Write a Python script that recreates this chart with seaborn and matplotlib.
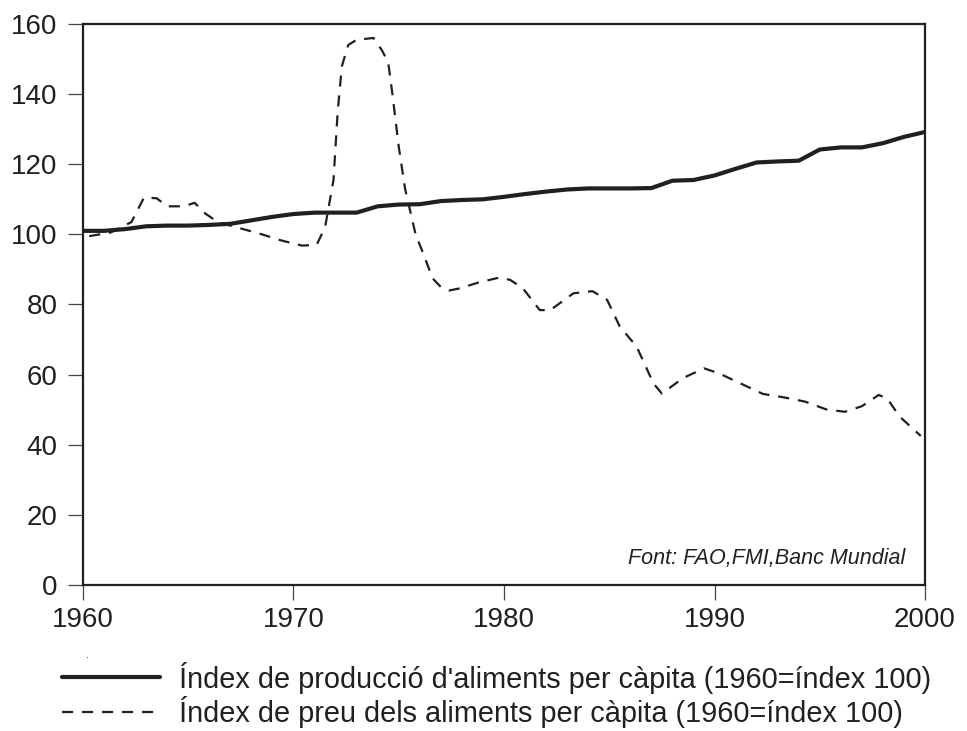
import matplotlib
matplotlib.use("Agg")
import matplotlib.pyplot as plt
import pandas as pd
import seaborn as sns

# Food production index per capita (1960 = 100)
prod_years = [1960, 1961, 1962, 1963, 1964, 1965, 1966, 1967, 1968, 1969,
              1970, 1971, 1972, 1973, 1974, 1975, 1976, 1977, 1978, 1979,
              1980, 1981, 1982, 1983, 1984, 1985, 1986, 1987, 1988, 1989,
              1990, 1991, 1992, 1993, 1994, 1995, 1996, 1997, 1998, 1999, 2000]
prod_index = [101, 101, 101.5, 102.3, 102.5, 102.5, 102.7, 103, 104, 105,
              105.8, 106.2, 106.2, 106.2, 108, 108.5, 108.6, 109.5, 109.8, 110,
              110.7, 111.5, 112.2, 112.8, 113.1, 113.1, 113.1, 113.2, 115.3, 115.5,
              116.8, 118.7, 120.5, 120.8, 121, 124.2, 124.8, 124.8, 126, 127.8, 129.2]

# Food price index per capita (1960 = 100)
price_years = [1960.3, 1961.3, 1962.3, 1962.9, 1963.5, 1964.0, 1964.8, 1965.3, 1965.8,
               1966.4, 1967.3, 1968.4, 1969.4, 1970.4, 1971.1, 1971.5, 1971.9, 1972.1,
               1972.3, 1972.6, 1973.0, 1973.8, 1974.2, 1974.5, 1974.7, 1975.0, 1975.3,
               1975.8, 1976.2, 1976.6, 1977.0, 1977.4, 1977.9, 1978.8, 1979.8, 1980.3,
               1980.9, 1981.7, 1982.2, 1983.3, 1984.2, 1984.9, 1985.5, 1986.3, 1987.1,
               1987.5, 1988.5, 1989.5, 1990.2, 1991.3, 1992.3, 1993.4, 1994.3, 1995.3,
               1996.2, 1997.0, 1997.8, 1998.2, 1998.8, 1999.8]
price_index = [99.5, 100.5, 103.5, 110.5, 110.3, 108, 108, 109, 106,
               103.5, 102, 100.2, 98.3, 96.8, 97, 102, 115.5, 135,
               148, 154, 155.5, 156, 152.5, 149, 140, 125, 113,
               100, 94, 87.5, 85, 84, 84.6, 86.3, 87.7, 87,
               84.6, 78.4, 78.4, 83.2, 83.8, 81.3, 73.7, 68, 57.5,
               54.6, 59, 61.8, 60.4, 57.3, 54.5, 53.4, 52.3, 50.1,
               49.4, 51, 54.2, 53.2, 48, 42.5]

label_prod = "Índex de producció d'aliments per càpita (1960=índex 100)"
label_price = "Índex de preu dels aliments per càpita (1960=índex 100)"
source_text = "Font: FAO,FMI,Banc Mundial"

ink = "#231f20"

sns.set_style("white")
plt.rcParams["font.family"] = ["Liberation Sans", "DejaVu Sans"]

df_prod = pd.DataFrame({"year": prod_years, "value": prod_index})
df_price = pd.DataFrame({"year": price_years, "value": price_index})

fig = plt.figure(figsize=(9.67, 7.31), dpi=100)
ax = fig.add_axes([0.0858, 0.1997, 0.8708, 0.7675])

sns.lineplot(data=df_prod, x="year", y="value", ax=ax, color=ink,
             linewidth=3.0, estimator=None, sort=False, label=label_prod)
sns.lineplot(data=df_price, x="year", y="value", ax=ax, color=ink,
             linewidth=1.6, estimator=None, sort=False, label=label_price)
ax.lines[1].set_dashes((5, 4))

ax.set_xlim(1960, 2000)
ax.set_ylim(0, 160)
ax.set_xticks(range(1960, 2001, 10))
ax.set_yticks(range(0, 161, 20))
ax.set_xlabel("")
ax.set_ylabel("")

for s in ax.spines.values():
    s.set_visible(True)
    s.set_color(ink)
    s.set_linewidth(1.6)

ax.tick_params(axis="both", direction="out", length=10.5, width=0.9,
               color="#444444", labelsize=20, labelcolor=ink,
               bottom=True, left=True)
ax.tick_params(axis="y", pad=8)
ax.tick_params(axis="x", pad=5)

ax.text(0.977, 0.048, source_text, transform=ax.transAxes, ha="right",
        va="center", fontsize=15.5, style="italic", color=ink)

handles, labels = ax.get_legend_handles_labels()
ax.get_legend().remove()
fig.legend(handles, labels, loc="upper left", bbox_to_anchor=(0.064, 0.095),
           frameon=False, fontsize=20.8, handlelength=3.4, handletextpad=0.65,
           labelspacing=0.1, labelcolor=ink, borderaxespad=0, borderpad=0)

# small stray dot above the legend, as in the original print
fig.text(0.09, 0.104, ".", fontsize=8, color=ink, ha="center", va="center")

fig.savefig("out.png", dpi=100)
